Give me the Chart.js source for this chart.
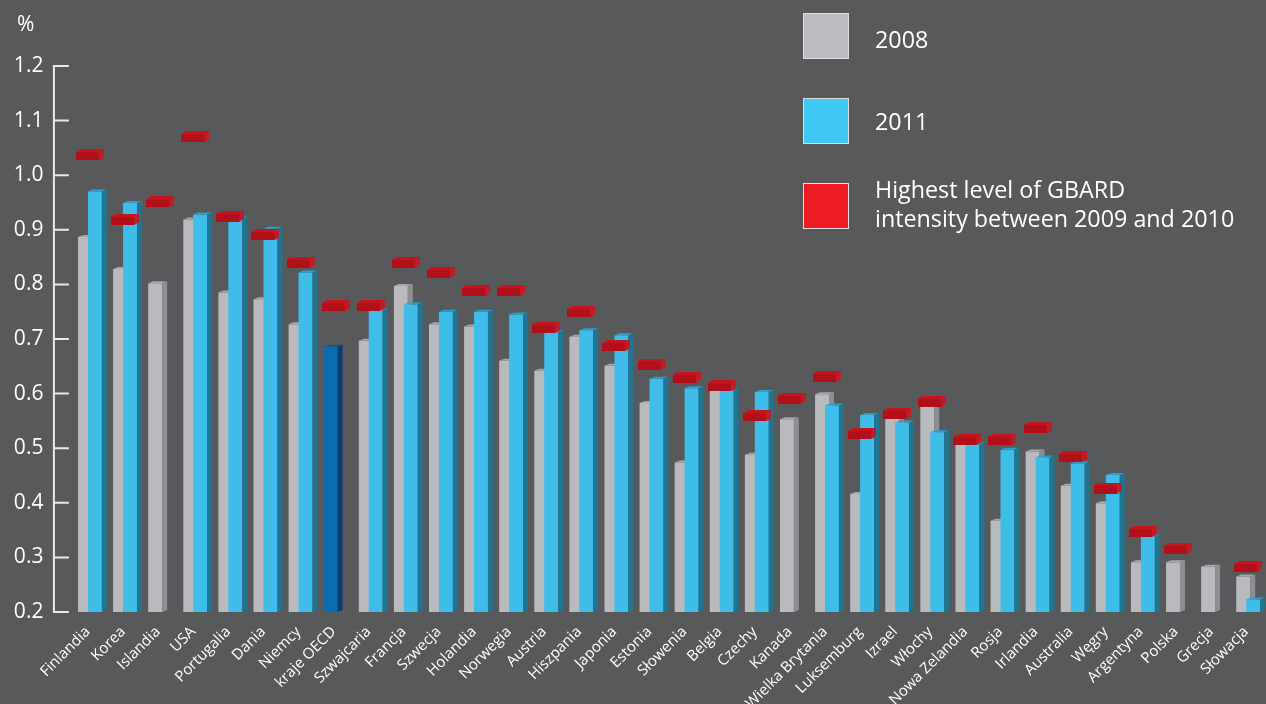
<!DOCTYPE html>
<html>
<head>
<meta charset="utf-8">
<script src="https://cdn.jsdelivr.net/npm/chart.js@4.4.1/dist/chart.umd.min.js"></script>
<style>
  html, body { margin: 0; padding: 0; width: 1266px; height: 704px; overflow: hidden; background: #58595b; font-family: "Open Sans", "Noto Sans", sans-serif; color: #fff; }
  #wrap { position: absolute; left: 0; top: 0; width: 1272px; height: 704px; }
  .pct { position: absolute; left: 17px; top: 9px; font-size: 21px; line-height: 29px; }
  .sw { position: absolute; left: 803px; width: 46px; height: 46px; box-sizing: border-box; border: 1.5px solid #dcdcdc; }
  .lbl { position: absolute; left: 875px; font-size: 23.3px; line-height: 29px; white-space: nowrap; }
</style>
</head>
<body>
<div id="wrap"><canvas id="chart"></canvas></div>
<div class="pct">%</div>
<div class="sw" style="top:13px;background:#bcbdc0"></div>
<div class="lbl" style="top:25px">2008</div>
<div class="sw" style="top:98px;background:#40c8f4"></div>
<div class="lbl" style="top:107px">2011</div>
<div class="sw" style="top:183px;background:#ed1c24"></div>
<div class="lbl" style="top:175px">Highest level of GBARD<br>intensity between 2009 and 2010</div>
<script>
const CATEGORIES = ['Finlandia','Korea','Islandia','USA','Portugalia','Dania','Niemcy','kraje OECD','Szwajcaria','Francja',
  'Szwecja','Holandia','Norwegia','Austria','Hiszpania','Japonia','Estonia','Słowenia','Belgia','Czechy',
  'Kanada','Wielka Brytania','Luksemburg','Izrael','Włochy','Nowa Zelandia','Rosja','Irlandia','Australia','Węgry',
  'Argentyna','Polska','Grecja','Słowacja'];
// first slot: 2008 (the kraje OECD average also sits in this slot, drawn dark blue)
const VALUES_2008 = [0.887,0.828,0.802,0.919,0.785,0.773,0.727,0.686,0.697,0.797,
  0.727,0.723,0.660,0.642,0.704,0.651,0.583,0.474,0.610,0.488,
  0.553,0.599,0.416,0.558,0.576,0.508,0.367,0.494,0.431,0.399,
  0.291,0.291,0.283,0.265];
const VALUES_2011 = [0.970,0.949,null,0.928,0.922,0.902,0.822,null,0.753,0.763,
  0.750,0.750,0.745,0.713,0.716,0.707,0.627,0.610,0.607,0.603,
  null,0.578,0.561,0.547,0.529,0.507,0.497,0.483,0.472,0.451,
  0.339,null,null,0.223];
const PEAK_2009_2010 = [1.037,0.919,0.951,1.070,0.925,0.891,0.841,0.761,0.761,0.840,
  0.822,0.789,0.789,0.721,0.750,0.688,0.654,0.630,0.614,0.559,
  0.591,0.632,0.527,0.564,0.586,0.516,0.516,0.538,0.485,0.427,
  0.347,0.316,null,0.283];
const Y_MIN = 0.2, Y_MAX = 1.2, Y_STEP = 0.1;

const OECD_INDEX = CATEGORIES.indexOf('kraje OECD');
const GREY = { front: '#b9babd', side: '#8e8f92', top: '#a6a7aa' };
const CYAN = { front: '#3ebde8', side: '#1f7592', top: '#2f9ecb' };
const OECD = { front: '#0b6cb0', side: '#073f6e', top: '#0a5994' };

// small red brick used as point style
function makeBrick() {
  const c = document.createElement('canvas');
  c.width = 28; c.height = 11;
  const g = c.getContext('2d');
  g.fillStyle = '#c5141e';
  g.beginPath(); g.moveTo(0, 3); g.lineTo(5, 0); g.lineTo(28, 0); g.lineTo(23, 3); g.closePath(); g.fill();
  g.fillStyle = '#b10f19';
  g.fillRect(0, 3, 23, 8);
  g.fillStyle = '#c21b25';
  g.beginPath(); g.moveTo(23, 3); g.lineTo(28, 0); g.lineTo(28, 8); g.lineTo(23, 11); g.closePath(); g.fill();
  return c;
}

const DX = 5, DY = 2;
function drawBox(ctx, el, pal) {
  const { x, y, base, width } = el.getProps(['x', 'y', 'base', 'width'], true);
  const l = x - width / 2, r = x + width / 2;
  el.draw(ctx);
  ctx.fillStyle = pal.top;
  ctx.beginPath(); ctx.moveTo(l, y); ctx.lineTo(l + DX, y - DY); ctx.lineTo(r + DX, y - DY); ctx.lineTo(r, y); ctx.closePath(); ctx.fill();
  ctx.fillStyle = pal.side;
  ctx.beginPath(); ctx.moveTo(r, y); ctx.lineTo(r + DX, y - DY); ctx.lineTo(r + DX, base - DY); ctx.lineTo(r, base); ctx.closePath(); ctx.fill();
}

const bars3d = {
  id: 'bars3d',
  beforeDatasetDraw(chart, args) {
    if (args.meta.type === 'bar') return false;
  },
  beforeDatasetsDraw(chart) {
    const ctx = chart.ctx;
    const grey = chart.getDatasetMeta(1), cyan = chart.getDatasetMeta(2);
    ctx.save();
    grey.data.forEach((el, i) => { if (VALUES_2008[i] != null) drawBox(ctx, el, i === OECD_INDEX ? OECD : GREY); });
    cyan.data.forEach((el, i) => { if (VALUES_2011[i] != null) drawBox(ctx, el, CYAN); });
    ctx.restore();
  },
  afterDraw(chart) {
    // y axis line with inward ticks
    const ctx = chart.ctx, ys = chart.scales.y;
    const ax = chart.chartArea.left - 18.5;
    ctx.save();
    ctx.strokeStyle = '#e9e9e9';
    ctx.lineWidth = 2;
    ctx.beginPath();
    ctx.moveTo(ax, ys.getPixelForValue(Y_MAX) - 1);
    ctx.lineTo(ax, ys.getPixelForValue(Y_MIN) + 1);
    ys.ticks.forEach(t => {
      const py = ys.getPixelForValue(t.value);
      ctx.moveTo(ax, py); ctx.lineTo(ax + 15, py);
    });
    ctx.stroke();
    ctx.restore();
  }
};

new Chart(document.getElementById('chart'), {
  type: 'bar',
  data: {
    labels: CATEGORIES,
    datasets: [
      {
        type: 'line',
        label: 'Highest level of GBARD intensity between 2009 and 2010',
        data: PEAK_2009_2010,
        showLine: false,
        pointStyle: makeBrick(),
        pointRadius: 5,
        order: 0
      },
      {
        label: '2008',
        data: VALUES_2008,
        base: Y_MIN,
        backgroundColor: VALUES_2008.map((_, i) => i === OECD_INDEX ? OECD.front : GREY.front),
        borderWidth: 0,
        order: 1
      },
      {
        label: '2011',
        data: VALUES_2011,
        base: Y_MIN,
        backgroundColor: CYAN.front,
        borderWidth: 0,
        order: 2
      }
    ]
  },
  options: {
    responsive: true,
    maintainAspectRatio: false,
    animation: false,
    events: [],
    categoryPercentage: 0.567,
    barPercentage: 1.4,
    layout: { padding: { top: 66, left: 0, right: 0, bottom: 0 } },
    plugins: { legend: { display: false }, tooltip: { enabled: false } },
    scales: {
      x: {
        grid: { display: false, drawTicks: false },
        border: { display: false },
        ticks: {
          autoSkip: false, maxRotation: 45, minRotation: 45, padding: 11, labelOffset: -2,
          color: '#ffffff', font: { family: '"Open Sans", sans-serif', size: 15 }
        },
        afterFit: s => { s.height = 92; }
      },
      y: {
        min: Y_MIN, max: Y_MAX,
        grid: { display: false, drawTicks: false },
        border: { display: false },
        ticks: {
          stepSize: Y_STEP, padding: 29,
          color: '#ffffff', font: { family: '"Open Sans", sans-serif', size: 21 },
          callback: v => v.toFixed(1)
        },
        afterFit: s => { s.width = 72.4; }
      }
    }
  },
  plugins: [bars3d]
});
</script>
</body>
</html>
